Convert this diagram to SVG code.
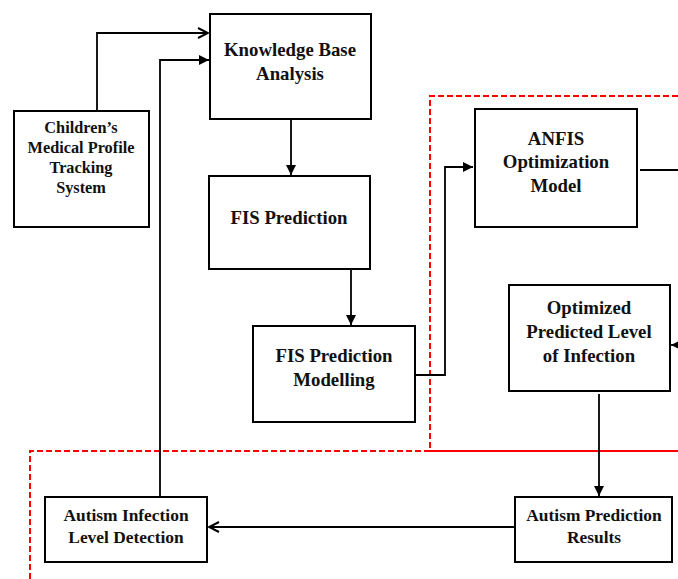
<svg xmlns="http://www.w3.org/2000/svg" width="678" height="579" viewBox="0 0 678 579">
<style>
.box{fill:#fff;stroke:#000;stroke-width:2}
.t{font-family:"Liberation Serif","Times New Roman",serif;font-weight:bold;font-size:18.8px;fill:#111;text-anchor:middle}
.s{font-size:16.3px}
.b{font-size:17.4px}
.c{fill:none;stroke:#000;stroke-width:1.8}
.r{fill:none;stroke:#f00;stroke-width:2;stroke-dasharray:6,3}
</style>
<defs>
<marker id="fa" viewBox="0 0 10 10" refX="10" refY="5" markerWidth="10" markerHeight="10" markerUnits="userSpaceOnUse" orient="auto"><path d="M0,0 L10,5 L0,10 Z" fill="#000"/></marker>
<marker id="oa" viewBox="0 0 12 12" refX="11" refY="6" markerWidth="12" markerHeight="12" markerUnits="userSpaceOnUse" orient="auto"><path d="M1,1 L11,6 L1,11" fill="none" stroke="#000" stroke-width="2"/></marker>
</defs>
<g id="regions">
<path class="r" d="M678,96 H430 V451"/>
<path class="r" d="M30,579 V451 H430"/>
<path d="M430,451 H678" stroke="#f00" stroke-width="2.2" fill="none"/>
</g>
<g id="connectors">
<path class="c" d="M97,111 V33 H208" marker-end="url(#oa)"/>
<path class="c" d="M160,497 V60 H209" marker-end="url(#fa)"/>
<path class="c" d="M291,119 V175" marker-end="url(#fa)"/>
<path class="c" d="M351,269 V325" marker-end="url(#fa)"/>
<path class="c" d="M415,375 H445 V167 H473" marker-end="url(#fa)"/>
<path class="c" d="M640,170 H678"/>
<path class="c" d="M678,345 H671" marker-end="url(#fa)"/>
<path class="c" d="M599,394 V496" marker-end="url(#fa)"/>
<path class="c" d="M515,527 H209" marker-end="url(#oa)"/>
</g>
<g id="kb"><rect class="box" x="210" y="14" width="161" height="105"/>
<text class="t" x="290" y="56">Knowledge Base</text><text class="t" x="290" y="80">Analysis</text></g>
<g id="cmpts"><rect class="box" x="14" y="111" width="135" height="116"/>
<text class="t s" x="81" y="133">Children’s</text><text class="t s" x="81" y="153">Medical Profile</text><text class="t s" x="81" y="173">Tracking</text><text class="t s" x="81" y="193">System</text></g>
<g id="fis"><rect class="box" x="209" y="176" width="161" height="93"/>
<text class="t" x="289" y="224">FIS Prediction</text></g>
<g id="fism"><rect class="box" x="253" y="326" width="162" height="96"/>
<text class="t" x="334" y="362">FIS Prediction</text><text class="t" x="334" y="386">Modelling</text></g>
<g id="anfis"><rect class="box" x="475" y="109" width="162" height="118"/>
<text class="t" x="556" y="145">ANFIS</text><text class="t" x="556" y="168">Optimization</text><text class="t" x="556" y="192">Model</text></g>
<g id="opt"><rect class="box" x="509" y="285" width="161" height="106"/>
<text class="t" x="589" y="314">Optimized</text><text class="t" x="589" y="338">Predicted Level</text><text class="t" x="589" y="362">of Infection</text></g>
<g id="ail"><rect class="box" x="45" y="497" width="162" height="65"/>
<text class="t b" x="126" y="521">Autism Infection</text><text class="t b" x="126" y="543">Level Detection</text></g>
<g id="apr"><rect class="box" x="515" y="497" width="157" height="65"/>
<text class="t b" x="594" y="521">Autism Prediction</text><text class="t b" x="594" y="543">Results</text></g>
</svg>
